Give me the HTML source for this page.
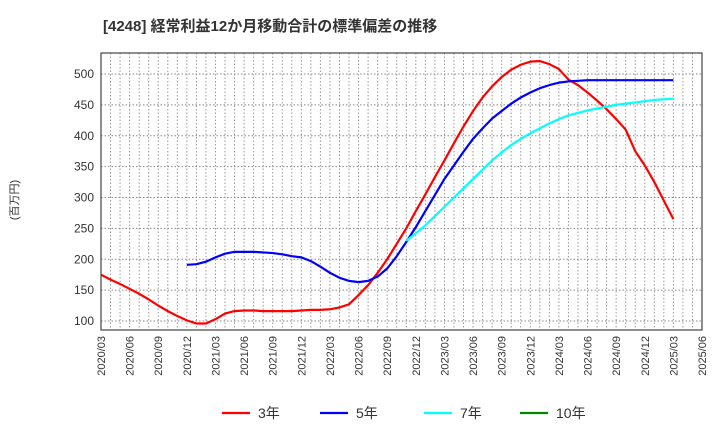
<!DOCTYPE html>
<html><head><meta charset="utf-8"><style>
body{margin:0;background:#fff;font-family:"Liberation Sans","Noto Sans CJK JP",sans-serif}
</style></head><body>
<svg id="c" width="720" height="440" xmlns="http://www.w3.org/2000/svg">
<text x="103" y="31" font-size="15" font-weight="bold" fill="#333" font-family="Liberation Sans, Noto Sans CJK JP, sans-serif">[4248]  経常利益12か月移動合計の標準偏差の推移</text>
<text transform="translate(18,200) rotate(-90)" font-size="11" fill="#333" text-anchor="middle" font-family="Liberation Sans, Noto Sans CJK JP, sans-serif">(百万円)</text>
<g id="grid"></g><g id="series"></g><g id="axes"></g><g id="legend"></g>
</svg>
<script>
const startYear=2020,startMonth=3,nMonths=64;
const yTicks=[100,150,200,250,300,350,400,450,500];
const s3=[175,167,160,152,144,135,125,116,108,101,96,96,103,112,116,117,117,116,116,116,116,117,118,118,119,122,127,142,158,178,200,225,250,278,305,333,360,388,415,440,462,480,495,507,515,520,521,516,508,491,482,470,457,443,427,410,375,352,325,295,265];
const s3Start=0;
const s5=[191,192,196,203,209,212,212,212,211,210,208,205,203,197,188,178,170,165,163,165,172,185,205,228,252,278,304,330,352,374,395,412,428,440,452,462,470,477,482,486,488,489,490,490,490,490,490,490,490,490,490,490];
const s5Start=9;
const s7=[230,242,255,270,285,300,315,330,345,360,373,385,395,404,412,420,427,433,437,441,444,447,450,452,454,456,458,459,460];
const s7Start=32;
const names=["3年","5年","7年","10年"],colors=["#f00","#00f","#0ff","#080"];
const L=101,R=702,T=53,B=330;
const X=i=>L+(R-L)*i/(nMonths-1);
const Y=v=>321-(v-100)*247/400;
const ns="http://www.w3.org/2000/svg";
function mk(t,a,p){const e=document.createElementNS(ns,t);for(const k in a)e.setAttribute(k,a[k]);p.appendChild(e);return e;}
const grid=document.getElementById('grid'),axes=document.getElementById('axes'),ser=document.getElementById('series'),leg=document.getElementById('legend');
for(let i=1;i<nMonths-1;i++){const l=mk('line',{x1:X(i),x2:X(i),y1:T,y2:B,stroke:'#999','stroke-dasharray':'1.5,2','stroke-width':1},grid);

}
yTicks.forEach(v=>{const l=mk('line',{x1:L,x2:R,y1:Y(v),y2:Y(v),stroke:'#888','stroke-dasharray':'1.5,2','stroke-width':1},grid);


const t=mk('text',{x:L-7,y:Y(v)+4,'font-size':12,fill:'#333','text-anchor':'end'},axes);t.textContent=v;

});
const fr=mk('rect',{x:L,y:T,width:R-L,height:B-T,fill:'none',stroke:'#444','stroke-width':1.2},axes);


for(let i=0;i<nMonths;i+=3){const m=(startMonth-1+i)%12+1,y=startYear+Math.floor((startMonth-1+i)/12);
const t=mk('text',{transform:`translate(${X(i)+4},336) rotate(-90)`,'font-size':11,fill:'#333','text-anchor':'end'},axes);
t.textContent=y+'/'+String(m).padStart(2,'0');

}
[[s3,s3Start,0],[s5,s5Start,1],[s7,s7Start,2]].forEach(([d,st,c])=>{
const p=mk('polyline',{points:d.map((v,i)=>X(st+i)+','+Y(v)).join(' '),fill:'none',stroke:colors[c],'stroke-width':2.2,'stroke-linejoin':'round'},ser);

});
const lx=[222,320,424,520];
names.forEach((n,i)=>{const g=mk('g',{},leg);


mk('line',{x1:lx[i],x2:lx[i]+28,y1:413,y2:413,stroke:colors[i],'stroke-width':2.2},g);
const t=mk('text',{x:lx[i]+36,y:418,'font-size':14,fill:'#333'},g);t.textContent=n;});
</script>
</body></html>
